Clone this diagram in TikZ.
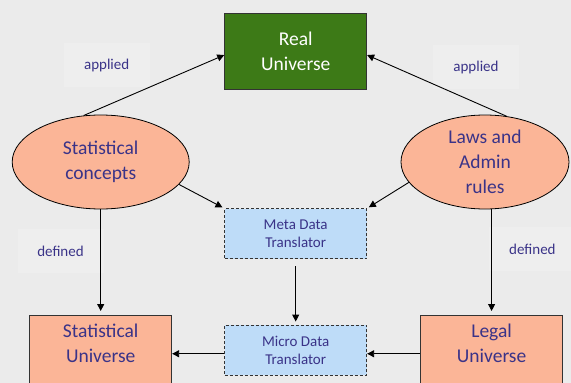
\documentclass[tikz,border=0pt]{standalone}
\usepackage{fontspec}
\setmainfont{Carlito}
\usepackage{xcolor}
\usepackage{tikz}
\usetikzlibrary{shapes.geometric,arrows.meta}
\definecolor{pagebg}{HTML}{EBEBEB}
\definecolor{labelbg}{HTML}{EEEEEE}
\definecolor{navy}{HTML}{3A3388}
\definecolor{salmon}{HTML}{FBB597}
\definecolor{leafgreen}{HTML}{3D7A17}
\definecolor{paleblue}{HTML}{BEDCF8}

\begin{document}
\begin{tikzpicture}[x=1pt,y=-1pt,
  bigtext/.style={font=\fontsize{19.5}{25}\selectfont,text=navy,align=center},
  smalltext/.style={font=\fontsize{15}{18}\selectfont,text=navy,align=center},
  concept/.style={ellipse,draw=black,line width=0.8pt,fill=salmon,inner sep=-10pt,bigtext},
  universe/.style={rectangle,draw=black!80,line width=0.9pt,fill=salmon,minimum width=142,inner ysep=9pt,bigtext},
  translator/.style={rectangle,draw=black!80,dash pattern=on 3pt off 2pt,line width=0.9pt,fill=paleblue,minimum width=142,minimum height=50,smalltext},
  relation/.style={fill=labelbg,smalltext,minimum width=86,minimum height=44},
  link/.style={draw=black,line width=0.9pt,-{Triangle[length=7pt,width=7pt]}}]
  \useasboundingbox (0,0) rectangle (571,383);
  \clip (0,0) rectangle (571,383);
  \fill[pagebg] (0,0) rectangle (571,383);
  \node[relation] (app1) at (106.7,65.3) {applied};
  \node[relation] (app2) at (476,67) {applied};
  \node[relation] (def1) at (60.5,251) {defined};
  \node[relation] (def2) at (532.4,249.3) {defined};
  \node[rectangle,draw=black!80,line width=0.9pt,fill=leafgreen,minimum width=142,minimum height=76,bigtext,text=white] (real) at (295.7,51.3) {Real\\Universe};
  \node[concept,minimum width=177,minimum height=94] (stcon) at (100.7,162) {Statistical\\concepts};
  \node[concept,minimum width=168,minimum height=94] (laws) at (485,162) {Laws and\\Admin\\rules};
  \node[translator] (meta) at (295.7,233.8) {Meta Data\\Translator};
  \node[translator] (micro) at (295.7,350) {Micro Data\\Translator};
  \node[universe,anchor=north] (stuni) at (100.7,315) {Statistical\\Universe\rule[-40pt]{0pt}{0pt}};
  \node[universe,anchor=north] (legal) at (491.6,315) {Legal\\Universe\rule[-40pt]{0pt}{0pt}};
  \draw[link] (stcon.110) -- (real.183);
  \draw[link] (laws.65) -- (real.-3);
  \draw[link,shorten >=2pt] (stcon.-16) -- (meta.north west);
  \draw[link,shorten >=2pt] (laws.195) -- (meta.north east);
  \draw[link,shorten >=4pt] (stcon.south) -- (stuni.north);
  \draw[link,shorten >=4pt] (laws.south -| legal.north) -- (legal.north);
  \draw[link,shorten <=7pt,shorten >=3pt] (meta.south) -- (micro.north);
  \draw[link] (legal.west |- micro.-3) -- (micro.-3);
  \draw[link] (micro.183) -- (stuni.east |- micro.183);
\end{tikzpicture}
\end{document}
